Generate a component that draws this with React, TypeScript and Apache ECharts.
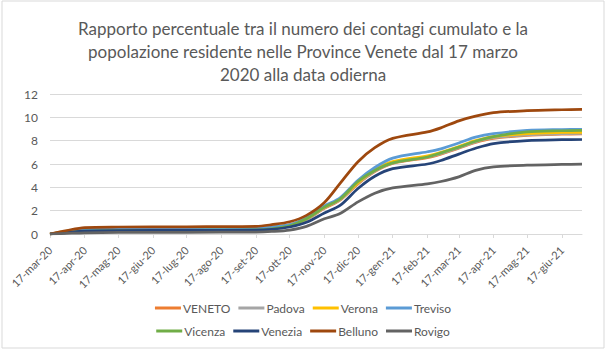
import React, { useEffect, useRef } from "react";
import * as echarts from "echarts";

const TITLE = "Rapporto percentuale tra il numero dei contagi cumulato e la\npopolazione residente nelle Province Venete dal 17 marzo\n2020 alla data odierna";

const START_DATE = "2020-03-17";
const END_DATE = "2021-07-05";
const MONTHS_IT = ["gen", "feb", "mar", "apr", "mag", "giu", "lug", "ago", "set", "ott", "nov", "dic"];

const sampleDates = [
  "2020-03-17", "2020-04-01", "2020-04-17", "2020-05-17", "2020-07-17", "2020-09-17",
  "2020-10-01", "2020-10-17", "2020-11-01", "2020-11-17", "2020-12-01", "2020-12-17",
  "2021-01-01", "2021-01-17", "2021-02-17", "2021-03-01", "2021-03-17", "2021-04-01",
  "2021-04-17", "2021-05-17", "2021-06-17", "2021-07-05",
];

const veneto = [0, 0.18, 0.33, 0.38, 0.4, 0.43, 0.52, 0.72, 1.25, 2.2, 2.9, 4.3, 5.35, 6.05, 6.55, 6.85, 7.35, 7.85, 8.2, 8.45, 8.55, 8.58];
const padova = [0, 0.2, 0.38, 0.42, 0.44, 0.46, 0.54, 0.72, 1.25, 2.25, 2.95, 4.35, 5.4, 6.1, 6.6, 6.9, 7.4, 7.9, 8.25, 8.5, 8.6, 8.62];
const verona = [0, 0.25, 0.45, 0.5, 0.52, 0.55, 0.62, 0.78, 1.3, 2.3, 3.0, 4.4, 5.5, 6.2, 6.7, 7.0, 7.5, 8.0, 8.35, 8.6, 8.7, 8.72];
const treviso = [0, 0.2, 0.4, 0.48, 0.5, 0.52, 0.6, 0.8, 1.4, 2.4, 3.1, 4.6, 5.7, 6.5, 7.05, 7.3, 7.8, 8.3, 8.6, 8.88, 8.95, 8.97];
const vicenza = [0, 0.12, 0.25, 0.3, 0.32, 0.35, 0.45, 0.7, 1.3, 2.3, 3.0, 4.5, 5.45, 6.1, 6.6, 6.95, 7.45, 7.95, 8.35, 8.75, 8.85, 8.88];
const venezia = [0, 0.12, 0.25, 0.3, 0.31, 0.33, 0.4, 0.6, 1.0, 1.8, 2.45, 3.9, 4.95, 5.6, 6.0, 6.3, 6.85, 7.35, 7.75, 8.0, 8.08, 8.1];
const belluno = [0, 0.3, 0.55, 0.6, 0.62, 0.65, 0.8, 1.05, 1.6, 2.7, 4.34, 6.2, 7.4, 8.2, 8.75, 9.1, 9.7, 10.1, 10.4, 10.57, 10.65, 10.68];
const rovigo = [0, 0.05, 0.1, 0.14, 0.15, 0.17, 0.22, 0.34, 0.65, 1.3, 1.75, 2.75, 3.5, 3.95, 4.3, 4.5, 4.9, 5.45, 5.75, 5.9, 5.96, 5.98];

const seriesNames = ["VENETO", "Padova", "Verona", "Treviso", "Vicenza", "Venezia", "Belluno", "Rovigo"];
const seriesValues = [veneto, padova, verona, treviso, vicenza, venezia, belluno, rovigo];
const seriesColors = ["#ED7D31", "#A5A5A5", "#FFC000", "#5B9BD5", "#70AD47", "#264478", "#9E480E", "#636363"];

const yTicks = { min: 0, max: 12, interval: 2 };

function buildDays(): string[] {
  const out: string[] = [];
  const d = new Date(START_DATE + "T00:00:00Z");
  const end = new Date(END_DATE + "T00:00:00Z");
  while (d.getTime() <= end.getTime()) {
    out.push(d.toISOString().slice(0, 10));
    d.setUTCDate(d.getUTCDate() + 1);
  }
  return out;
}

function fmt(v: string): string {
  const [y, m, dd] = v.split("-");
  return `${dd}-${MONTHS_IT[parseInt(m, 10) - 1]}-${y.slice(2)}`;
}

export default function App() {
  const ref = useRef<HTMLDivElement>(null);
  useEffect(() => {
    document.body.style.margin = "0";
    if (!ref.current) return;
    const chart = echarts.init(ref.current, undefined, { renderer: "svg" });
    const days = buildDays();
    const is17 = (_i: number, v: string) => v.endsWith("-17");
    const font = "Lato";
    const legendText = { color: "#595959", fontSize: 12, fontFamily: font, padding: [0, 0, 0, -3] };
    chart.setOption({
      animation: false,
      backgroundColor: "#ffffff",
      title: {
        text: TITLE,
        left: "center",
        top: 12,
        textStyle: { color: "#595959", fontSize: 17, fontWeight: "normal", fontFamily: font, lineHeight: 23 },
      },
      graphic: [
        {
          type: "rect",
          shape: { x: 2, y: 1, width: 602, height: 347 },
          style: { fill: "none", stroke: "#d9d9d9", lineWidth: 1 },
          silent: true,
        },
      ],
      legend: [
        {
          data: seriesNames.slice(0, 4),
          top: 297,
          left: "center",
          icon: "rect",
          itemWidth: 26,
          itemHeight: 3,
          itemGap: 8,
          textStyle: legendText,
        },
        {
          data: seriesNames.slice(4),
          top: 320,
          left: "center",
          icon: "rect",
          itemWidth: 26,
          itemHeight: 3,
          itemGap: 8,
          textStyle: legendText,
        },
      ],
      grid: { left: 50, right: 24, top: 94, bottom: 116, containLabel: false },
      xAxis: {
        type: "category",
        data: days,
        boundaryGap: false,
        axisLine: { lineStyle: { color: "#d9d9d9" } },
        axisTick: { show: true, interval: is17, length: 4, lineStyle: { color: "#d9d9d9" } },
        axisLabel: {
          interval: is17,
          rotate: 45,
          formatter: (v: string) => fmt(v),
          color: "#595959",
          fontSize: 11,
          fontFamily: font,
          margin: 14,
        },
        splitLine: { show: false },
      },
      yAxis: {
        type: "value",
        min: yTicks.min,
        max: yTicks.max,
        interval: yTicks.interval,
        axisLine: { show: false },
        axisTick: { show: false },
        axisLabel: { color: "#595959", fontSize: 12, fontFamily: font, margin: 12 },
        splitLine: { lineStyle: { color: "#d9d9d9" } },
      },
      series: seriesNames.map((name, i) => ({
        name,
        type: "line",
        showSymbol: false,
        symbol: "none",
        smooth: 0.3,
        data: sampleDates.map((d, j) => [d, seriesValues[i][j]]),
        lineStyle: { color: seriesColors[i], width: 2.75 },
        itemStyle: { color: seriesColors[i] },
      })),
    });
    return () => chart.dispose();
  }, []);
  return <div ref={ref} style={{ width: 606, height: 350 }} />;
}
